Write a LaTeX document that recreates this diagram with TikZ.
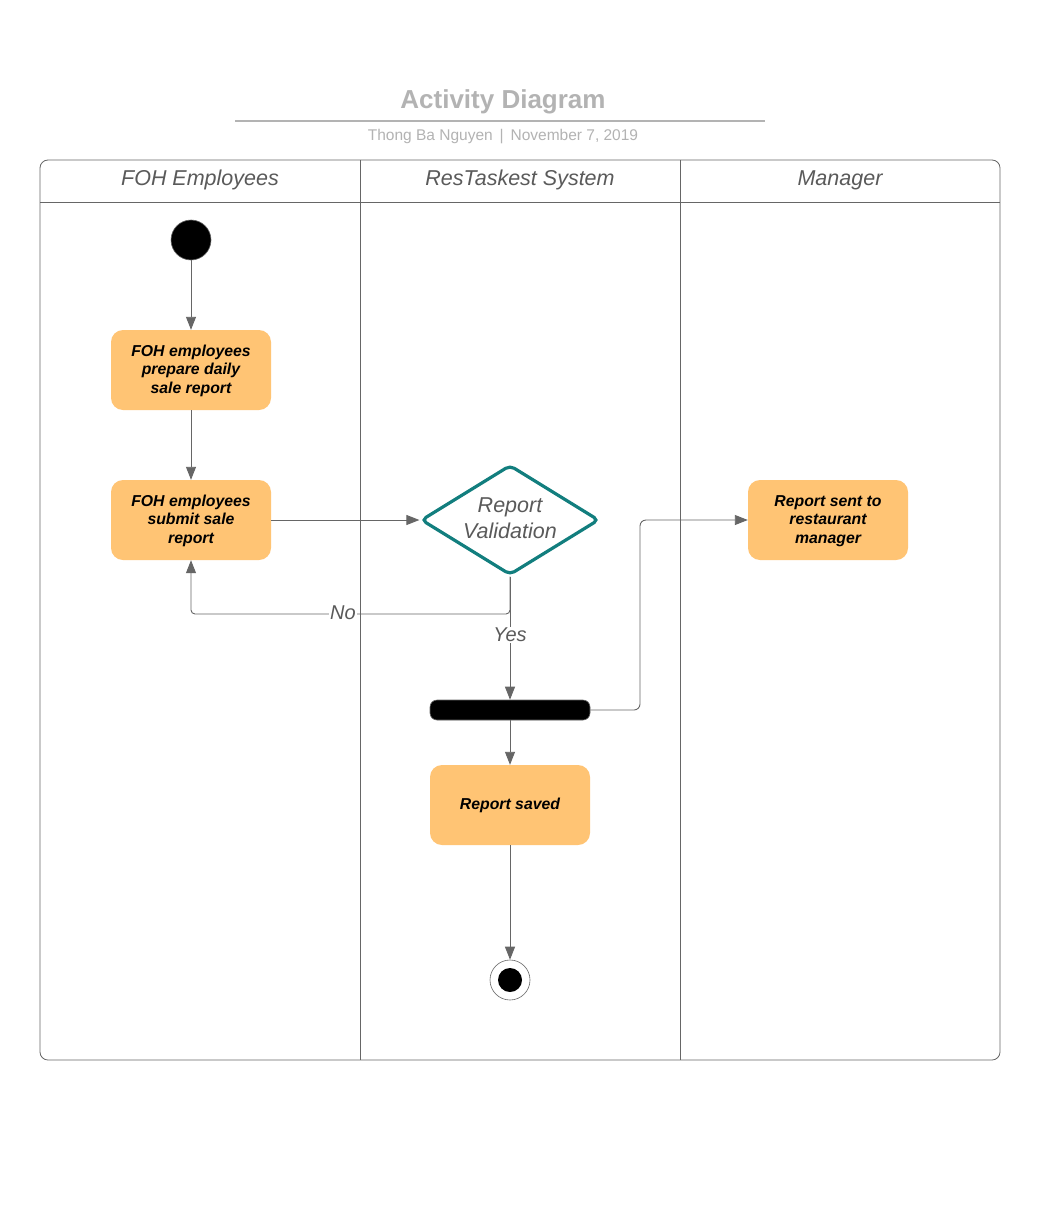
\documentclass[tikz,border=0pt]{standalone}
\usepackage{fontspec}
\setmainfont{Liberation Sans}
\usetikzlibrary{arrows.meta,shapes.geometric}
\definecolor{actfill}{HTML}{FFC474}
\definecolor{decteal}{HTML}{127E7E}
\definecolor{lineg}{HTML}{666666}
\definecolor{headg}{HTML}{5A5A5A}
\definecolor{titleg}{HTML}{B3B3B3}
\tikzset{
  actbox/.style={draw=none, fill=actfill, rounded corners=12pt, minimum width=160pt, minimum height=80pt,
    align=center, font=\fontsize{15.8}{18.5}\selectfont\bfseries\itshape, text=black, inner sep=2pt,
    text depth=1.5pt},
  flow/.style={draw=lineg, line width=0.9pt, -{Triangle[length=13pt,width=10pt]}},
  lanehead/.style={font=\fontsize{21.5}{24}\selectfont\itshape, text=headg},
  guard/.style={font=\fontsize{20}{24}\selectfont\itshape, text=headg, fill=white, inner sep=1pt},
  laneline/.style={draw=lineg, line width=0.8pt}
}
\begin{document}
\begin{tikzpicture}[x=1pt,y=-1pt]
\useasboundingbox (0,0) rectangle (1056,1220);
\fill[white] (0,0) rectangle (1056,1220);

% title block
\node[font=\fontsize{26}{30}\selectfont\bfseries, text=titleg] (title) at (503,101.5) {Activity Diagram};
\draw[titleg, line width=1.6pt] (235,121) -- (765,121);
\node[font=\fontsize{15.5}{18}\selectfont, text=titleg] (subtitle) at (503,137) {Thong Ba Nguyen \,|\, November 7, 2019};

% swimlane pool
\draw[laneline, rounded corners=8pt] (40,160) rectangle (1000,1060);
\draw[laneline] (40,202) -- (1000,202);
\draw[laneline] (360,160) -- (360,1060);
\draw[laneline] (680,160) -- (680,1060);
\node[lanehead] (laneA) at (200,180) {FOH Employees};
\node[lanehead] (laneB) at (520,180) {ResTaskest System};
\node[lanehead] (laneC) at (840,180) {Manager};

% nodes
\node[circle, fill=black, draw=lineg, line width=0.6pt, minimum size=40pt, inner sep=0pt] (start) at (191,240) {};
\node[actbox] (prepare) at (191,370) {FOH employees\\prepare daily\\sale report};
\node[actbox] (submit) at (191,520) {FOH employees\\submit sale\\report};
\node[diamond, draw=decteal, line width=3.2pt, rounded corners=5pt, minimum width=178pt, minimum height=110pt,
  inner sep=0pt, aspect=1.64] (valid) at (510,520) {};
\node[align=center, font=\fontsize{21.5}{26}\selectfont\itshape, text=headg] (validtext) at (510,518) {Report\\Validation};
\node[actbox] (sent) at (828,520) {Report sent to\\restaurant\\manager};
\node[rectangle, rounded corners=7pt, fill=black, draw=lineg, line width=0.6pt, minimum width=160pt, minimum height=20pt, inner sep=0pt] (fork) at (510,710) {};
\node[actbox] (saved) at (510,805) {Report saved};
\node[circle, draw=lineg, fill=white, line width=0.6pt, minimum size=40pt, inner sep=0pt] (finish) at (510,980) {};
\node[circle, fill=black, minimum size=24pt, inner sep=0pt] (finishdot) at (finish.center) {};

% connectors
\draw[flow] (start) -- (prepare);
\draw[flow] (prepare) -- (submit);
\draw[flow] (submit.east) -- (valid.west);
\draw[flow, rounded corners=4pt] (valid.south) -- (510,614) -- (191,614) -- (submit.south);
\node[guard] (nolabel) at (343,613) {No};
\draw[flow] (valid.south) -- (fork.north);
\node[guard] (yeslabel) at (510,635) {Yes};
\draw[flow, rounded corners=6pt] (fork.east) -- (640,710) -- (640,520) -- (sent.west);
\draw[flow] (fork.south) -- (saved.north);
\draw[flow] (saved.south) -- (finish.north);
\end{tikzpicture}
\end{document}
